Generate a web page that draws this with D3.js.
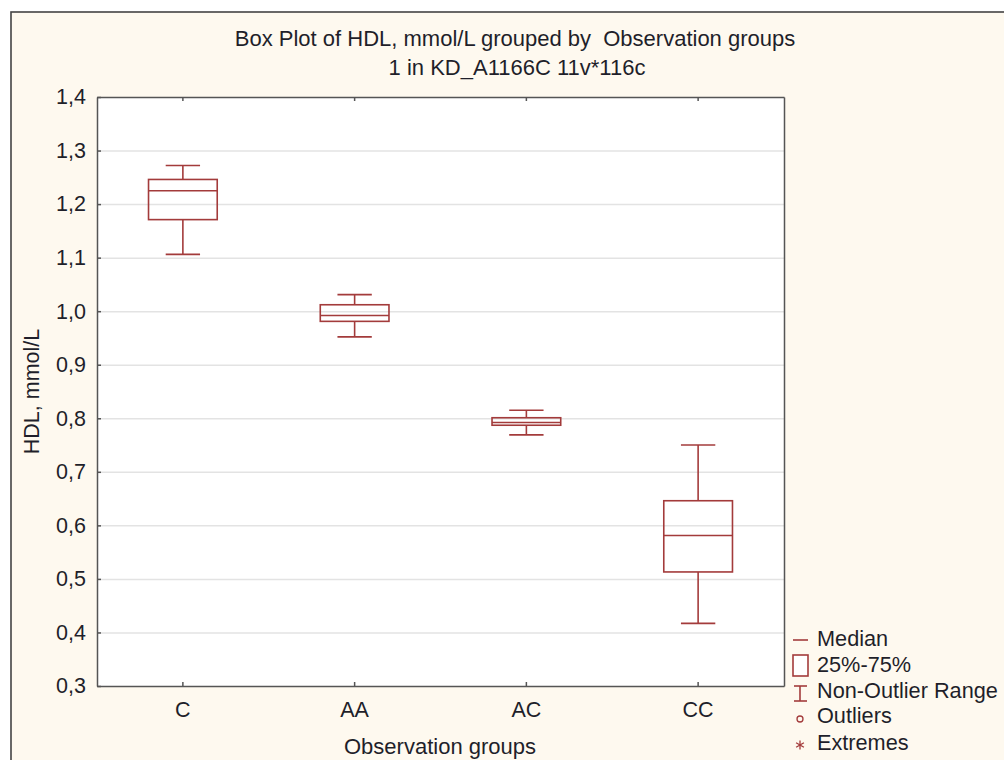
<!DOCTYPE html>
<meta charset="utf-8">
<head>
<style>
body{
	margin:0;
	background:#fff;
}
text{
	font-family:"Liberation Sans", Arial, sans-serif;
	fill:#1f1f2a;
}
.grid line{
	stroke:#e3e3e3;
	stroke-width:1.5px;
}
.grid path{
	display:none;
}
.axis path, .axis line{
	stroke:#555;
	stroke-width:1.5px;
}
.axis text{
	font-size:21.5px;
}
.box{
	fill:none;
	stroke:#a33b3b;
	stroke-width:1.6px;
}
</style>
</head>
<body>
<script src="https://d3js.org/d3.v7.min.js"></script>
<script>

// values
var groups=["C","AA","AC","CC"];
var whiskerLow=[1.106,0.952,0.769,0.417];
var q1=[1.171,0.981,0.787,0.513];
var median=[1.225,0.992,0.792,0.581];
var q3=[1.246,1.012,0.801,0.646];
var whiskerHigh=[1.272,1.031,0.815,0.750];
var yTicks=[0.3,0.4,0.5,0.6,0.7,0.8,0.9,1.0,1.1,1.2,1.3,1.4];
var legendItems=["Median","25%-75%","Non-Outlier Range","Outliers","Extremes"];

var W=1004,H=760;
var pL=97,pR=784,pT=97,pB=686;

var svg=d3.select("body").append("svg").attr("width",W).attr("height",H);

// outer frame with cream fill
svg.append("rect").attr("x",11).attr("y",12).attr("width",W).attr("height",H)
	.attr("fill","#fef9ef").attr("stroke","#444").attr("stroke-width",1.6);

svg.append("rect").attr("x",pL).attr("y",pT).attr("width",pR-pL).attr("height",pB-pT)
	.attr("fill","#fff");

var x=d3.scaleBand().domain(groups).range([pL,pR]).padding(0);
var y=d3.scaleLinear().domain([0.3,1.4]).range([pB,pT]);
var fmt=function(d){ return d3.format(".1f")(d).replace(".",","); };

svg.append("g").attr("class","grid").attr("transform","translate("+pL+",0)")
	.call(d3.axisLeft(y).tickValues(yTicks.slice(1,-1)).tickSize(-(pR-pL)).tickFormat(""));

svg.append("g").attr("class","axis").attr("transform","translate("+pL+",0)")
	.call(d3.axisLeft(y).tickValues(yTicks).tickSizeInner(-4).tickSizeOuter(0).tickPadding(11).tickFormat(fmt));

svg.append("g").attr("class","axis").attr("transform","translate(0,"+pB+")")
	.call(d3.axisBottom(x).tickSizeInner(-4).tickSizeOuter(0).tickPadding(16));

svg.append("g").attr("class","axis").attr("transform","translate(0,"+pT+")")
	.call(d3.axisTop(x).tickSizeInner(-4).tickSizeOuter(0).tickFormat(""));

svg.append("g").attr("class","axis").attr("transform","translate("+pR+",0)")
	.call(d3.axisRight(y).tickValues([]).tickSizeOuter(0));

// boxes
var bw=x.bandwidth()*0.4, cw=x.bandwidth()*0.2;
groups.forEach(function(g,i){
	var cx=x(g)+x.bandwidth()/2;
	var b=svg.append("g").attr("class","box");
	b.append("line").attr("x1",cx).attr("x2",cx).attr("y1",y(whiskerHigh[i])).attr("y2",y(q3[i]));
	b.append("line").attr("x1",cx).attr("x2",cx).attr("y1",y(q1[i])).attr("y2",y(whiskerLow[i]));
	b.append("line").attr("x1",cx-cw/2).attr("x2",cx+cw/2).attr("y1",y(whiskerHigh[i])).attr("y2",y(whiskerHigh[i]));
	b.append("line").attr("x1",cx-cw/2).attr("x2",cx+cw/2).attr("y1",y(whiskerLow[i])).attr("y2",y(whiskerLow[i]));
	b.append("rect").attr("x",cx-bw/2).attr("width",bw).attr("y",y(q3[i])).attr("height",y(q1[i])-y(q3[i]));
	b.append("line").attr("x1",cx-bw/2).attr("x2",cx+bw/2).attr("y1",y(median[i])).attr("y2",y(median[i]));
});

// titles
svg.append("text").attr("x",515).attr("y",46).attr("text-anchor","middle").style("font-size","22px")
	.text("Box Plot of HDL, mmol/L grouped by\u00a0\u00a0Observation groups");
svg.append("text").attr("x",517).attr("y",75).attr("text-anchor","middle").style("font-size","22px")
	.text("1 in KD_A1166C 11v*116c");
svg.append("text").attr("x",440).attr("y",754).attr("text-anchor","middle").style("font-size","22px")
	.text("Observation groups");
svg.append("text").attr("transform","translate(39,"+((pT+pB)/2)+") rotate(-90)")
	.attr("text-anchor","middle").style("font-size","21.5px").text("HDL, mmol/L");

// legend
var lg=svg.append("g").attr("class","box");
var ly=[646,672,698,723,750];
lg.append("line").attr("x1",793).attr("x2",808).attr("y1",640).attr("y2",640);
lg.append("rect").attr("x",793).attr("y",655).attr("width",15).attr("height",21).attr("fill","#fff");
lg.append("line").attr("x1",800).attr("x2",800).attr("y1",686).attr("y2",701);
lg.append("line").attr("x1",794).attr("x2",807).attr("y1",686).attr("y2",686);
lg.append("line").attr("x1",794).attr("x2",807).attr("y1",701).attr("y2",701);
lg.append("circle").attr("cx",800).attr("cy",719).attr("r",3).style("stroke-width","1.3px");
[0,60,120].forEach(function(a){
	var r=4.5, t=a*Math.PI/180;
	lg.append("line").attr("x1",800-r*Math.sin(t)).attr("x2",800+r*Math.sin(t))
		.attr("y1",745-r*Math.cos(t)).attr("y2",745+r*Math.cos(t)).style("stroke-width","1.3px");
});
legendItems.forEach(function(t,i){
	svg.append("text").attr("x",817).attr("y",ly[i]).style("font-size","21.7px").text(t);
});
</script>
</body>
</html>
